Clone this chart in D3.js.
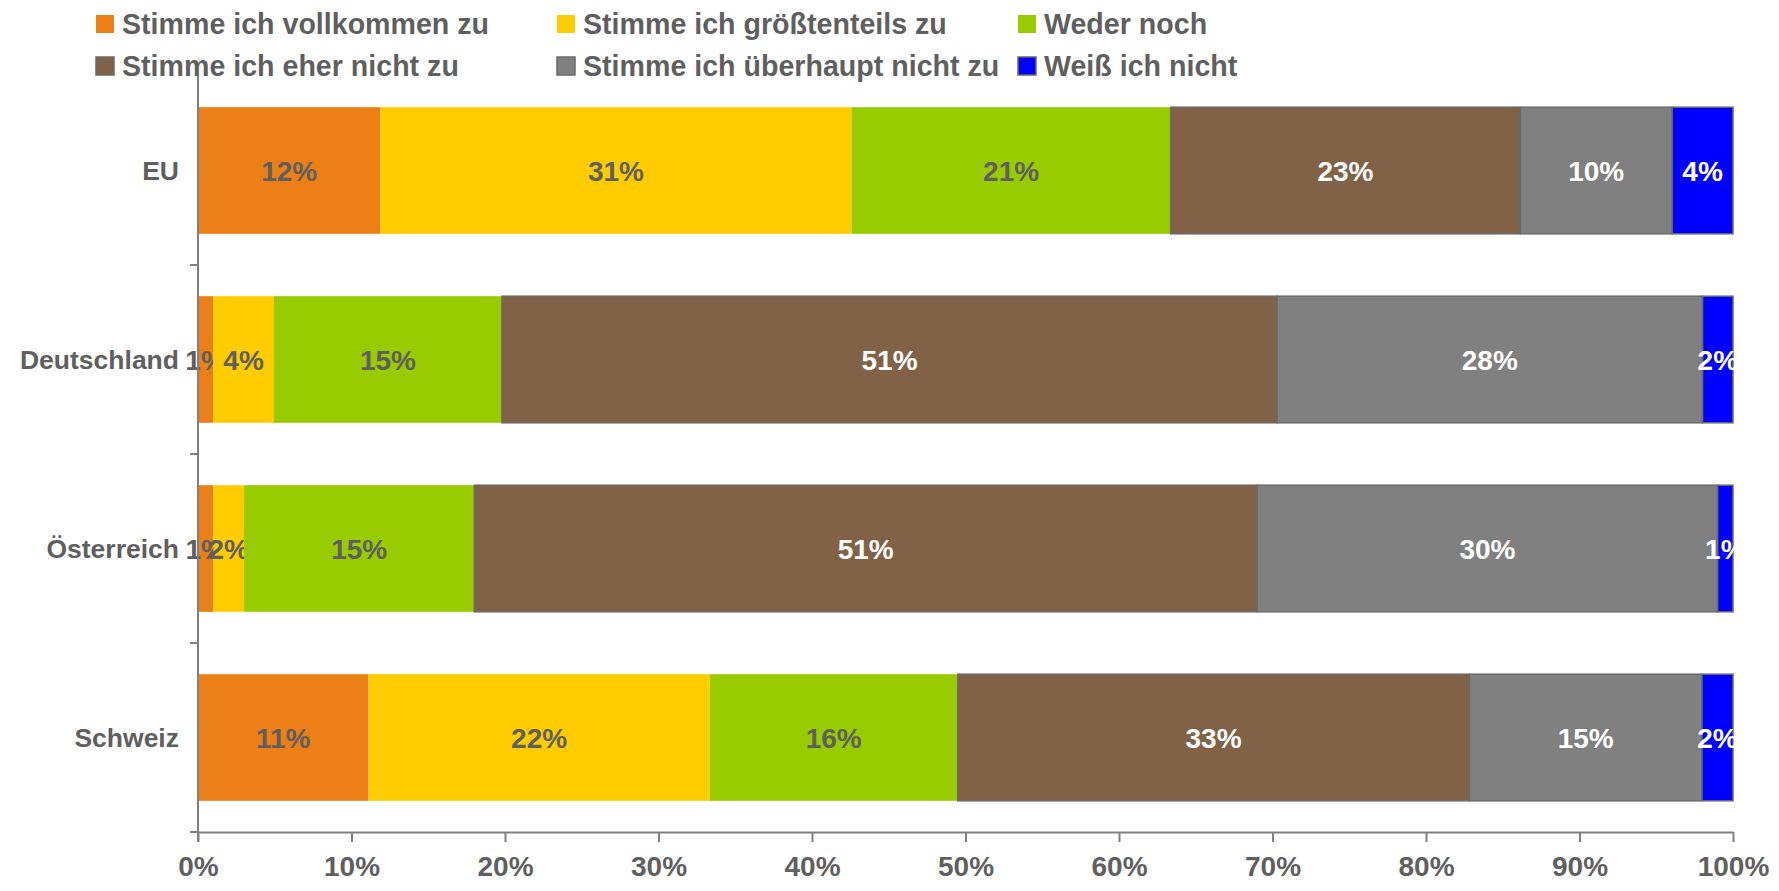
<!DOCTYPE html>
<html lang="de">
<head>
<meta charset="utf-8">
<title>Zustimmung</title>
<script src="https://cdn.jsdelivr.net/npm/d3@7"></script>
<style>
  body { margin: 0; background: #fff; }
  text { font-family: "Liberation Sans", Arial, sans-serif; font-weight: bold; }
</style>
</head>
<body>
<div id="chart"></div>
<script>
// categories and answers
var countries = ["EU", "Deutschland", "Österreich", "Schweiz"];
var answers = ["Stimme ich vollkommen zu", "Stimme ich größtenteils zu", "Weder noch",
               "Stimme ich eher nicht zu", "Stimme ich überhaupt nicht zu", "Weiß ich nicht"];

// percent per answer, one value per country (same order as countries)
var vollkommen     = [12, 1, 1, 11];
var groesstenteils = [31, 4, 2, 22];
var wedernoch      = [21, 15, 15, 16];
var ehernicht      = [23, 51, 51, 33];
var ueberhaupt     = [10, 28, 30, 15];
var weissnicht     = [4, 2, 1, 2];

var xTicks = [0, 0.1, 0.2, 0.3, 0.4, 0.5, 0.6, 0.7, 0.8, 0.9, 1];

var colors = ["#ec7f16", "#ffcc00", "#99cc00", "#826246", "#808080", "#0000ff"];
var labelColors = ["#5f5f5f", "#5f5f5f", "#5f5f5f", "#ffffff", "#ffffff", "#ffffff"];
var outlined = [false, false, false, true, true, true];

var series = [vollkommen, groesstenteils, wedernoch, ehernicht, ueberhaupt, weissnicht];
var rows = countries.map(function(c, i) {
    var r = {country: c};
    answers.forEach(function(a, j) { r[a] = series[j][i]; });
    return r;
});

var w = 1779, h = 891;
var plotLeft = 198, plotRight = 1733, plotTop = 76, plotBottom = 832;

var svg = d3.select("#chart").append("svg")
    .attr("width", w).attr("height", h);

var x = d3.scaleLinear().domain([0, 1]).range([plotLeft, plotRight]);
var y = d3.scaleBand().domain(countries).range([plotTop, plotBottom])
    .paddingInner(0.33).paddingOuter(0.165);

var stack = d3.stack().keys(answers).offset(d3.stackOffsetExpand);
var stacked = stack(rows);

var layers = svg.selectAll("g.layer")
    .data(stacked)
    .enter().append("g")
    .attr("class", "layer");

layers.selectAll("rect")
    .data(function(d) { return d.map(function(p) { return {p: p, k: d.index}; }); })
    .enter().append("rect")
    .attr("x", function(d) { return x(d.p[0]); })
    .attr("y", function(d) { return y(d.p.data.country); })
    .attr("width", function(d) { return x(d.p[1]) - x(d.p[0]); })
    .attr("height", y.bandwidth())
    .attr("fill", function(d) { return colors[d.k]; })
    .attr("stroke", function(d) { return outlined[d.k] ? "#6a6a6a" : "none"; })
    .attr("stroke-width", 1.5);

layers.selectAll("text")
    .data(function(d) { return d.map(function(p) { return {p: p, k: d.index, v: p.data[d.key]}; }); })
    .enter().append("text")
    .attr("x", function(d) { return (x(d.p[0]) + x(d.p[1])) / 2; })
    .attr("y", function(d) { return y(d.p.data.country) + y.bandwidth() / 2; })
    .attr("dy", "0.36em")
    .attr("text-anchor", "middle")
    .attr("font-size", 28)
    .attr("fill", function(d) { return labelColors[d.k]; })
    .text(function(d) { return d.v + "%"; });

// axes
var yAxis = svg.append("g");
yAxis.append("line")
    .attr("x1", plotLeft).attr("x2", plotLeft).attr("y1", plotTop).attr("y2", plotBottom + 10)
    .attr("stroke", "#808080").attr("stroke-width", 2);
var bounds = countries.slice(1).map(function(c) { return y(c) - y.step() * y.paddingInner() / 2; });
bounds.push(plotBottom);
yAxis.selectAll("line.tick")
    .data(bounds)
    .enter().append("line")
    .attr("class", "tick")
    .attr("x1", plotLeft - 8).attr("x2", plotLeft)
    .attr("y1", function(d) { return d; }).attr("y2", function(d) { return d; })
    .attr("stroke", "#808080").attr("stroke-width", 2);

svg.selectAll("text.cat")
    .data(countries)
    .enter().append("text")
    .attr("class", "cat")
    .attr("x", 179)
    .attr("y", function(d) { return y(d) + y.bandwidth() / 2; })
    .attr("dy", "0.36em")
    .attr("text-anchor", "end")
    .attr("font-size", 26.5)
    .attr("fill", "#5f5f5f")
    .text(function(d) { return d; });

var xAxis = svg.append("g")
    .attr("transform", "translate(0," + plotBottom + ")")
    .call(d3.axisBottom(x).tickValues(xTicks).tickFormat(d3.format(".0%")).tickSize(10).tickPadding(14).tickSizeOuter(0));
xAxis.select(".domain").attr("stroke", "#808080").attr("stroke-width", 2);
xAxis.selectAll(".tick line").attr("stroke", "#808080").attr("stroke-width", 2);
xAxis.selectAll(".tick text")
    .attr("font-size", 28)
    .attr("font-family", "Liberation Sans, Arial, sans-serif")
    .attr("fill", "#5f5f5f");

// legend
var legendPos = [[96, 24], [557, 24], [1018, 24], [96, 66], [557, 66], [1018, 66]];
var legendOrder = [0, 1, 2, 3, 4, 5];
var leg = svg.selectAll("g.leg")
    .data(legendOrder)
    .enter().append("g")
    .attr("class", "leg")
    .attr("transform", function(d, i) { return "translate(" + legendPos[i][0] + "," + legendPos[i][1] + ")"; });
leg.append("rect")
    .attr("x", 0).attr("y", -9).attr("width", 18).attr("height", 18)
    .attr("fill", function(d) { return colors[d]; })
    .attr("stroke", function(d) { return outlined[d] ? "#6a6a6a" : "none"; })
    .attr("stroke-width", 1.5);
leg.append("text")
    .attr("x", 26).attr("dy", "0.36em")
    .attr("font-size", 28.6)
    .attr("fill", "#5f5f5f")
    .text(function(d) { return answers[d]; });
</script>
</body>
</html>
